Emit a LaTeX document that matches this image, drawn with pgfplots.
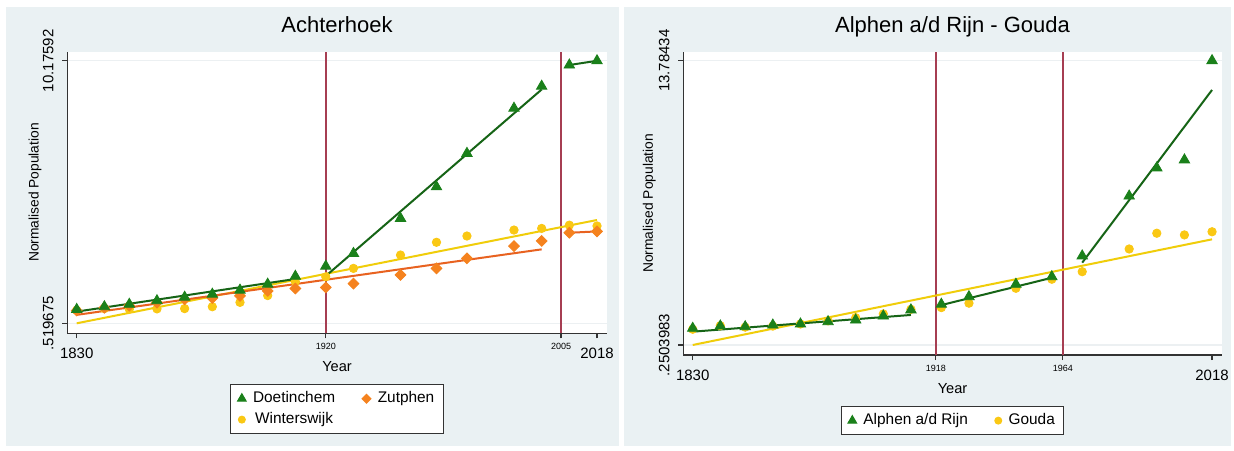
\documentclass[border=0pt]{standalone}
\usepackage{fontspec}
\setmainfont{Liberation Sans}
\usepackage{pgfplots}
\usepackage{pgfplotstable}
\pgfplotsset{compat=1.18}
\definecolor{bgc}{RGB}{234,241,243}
\definecolor{gridc}{RGB}{236,240,242}
\definecolor{gcol}{RGB}{26,128,26}
\definecolor{gline}{RGB}{22,100,22}
\definecolor{ocol}{RGB}{245,130,30}
\definecolor{oline}{RGB}{232,98,32}
\definecolor{ycol}{RGB}{250,200,20}
\definecolor{yline}{RGB}{240,205,10}
\definecolor{vcol}{RGB}{166,62,82}
\newcommand{\smalltick}[1]{\raisebox{4.5pt}{\fontsize{4.5}{5}\selectfont #1}}

\pgfplotstableread{
year doet zut wint
1830 1.03 0.99 1.00
1840 1.13 1.09 1.06
1849 1.22 1.17 1.04
1859 1.35 1.28 1.05
1869 1.48 1.40 1.06
1879 1.59 1.45 1.13
1889 1.74 1.53 1.29
1899 1.96 1.71 1.54
1909 2.25 1.80 2.05
1920 2.62 1.84 2.23
1930 3.09 1.98 2.54
1947 4.38 2.30 3.03
1960 5.54 2.54 3.50
1971 6.77 2.91 3.73
1988 8.43 3.36 3.95
1998 9.24 3.55 4.01
2008 10.02 3.85 4.13
2018 10.17592 3.90 4.10
}\achter

\pgfplotstableread{
year alph gou
1830 1.045 1.00
1840 1.155 1.17
1849 1.12 1.10
1859 1.20 1.15
1869 1.25 1.25
1879 1.36 1.40
1889 1.44 1.55
1899 1.63 1.73
1909 1.92 1.95
1920 2.19 2.03
1930 2.55 2.24
1947 3.14 2.95
1960 3.50 3.38
1971 4.49 3.74
1988 7.34 4.82
1998 8.68 5.57
2008 9.06 5.49
2018 13.78434 5.64
}\alphen

\pgfplotsset{
  statastyle/.style={
    scale only axis,
    anchor=south west,
    xmin=1826.6, xmax=2021.5,
    axis x line*=bottom, axis y line*=left,
    axis line style={draw=black!80, line width=0.6pt, -},
    axis background/.style={fill=white},
    tick align=outside,
    major tick length=2.5pt,
    tick style={draw=black!80, line width=0.6pt},
    ymajorgrids,
    grid style={draw=gridc, line width=0.7pt},
    xticklabel style={anchor=base, inner sep=0pt, font=\fontsize{7.5}{9}\selectfont},
    xticklabel shift=10pt,
    yticklabel style={rotate=90, anchor=south, inner sep=0pt, font=\fontsize{7.5}{9}\selectfont},
    yticklabel shift=4.15pt,
    title style={anchor=base, font=\fontsize{11}{13}\selectfont},
    xlabel style={anchor=base, font=\fontsize{7.3}{9}\selectfont},
    ylabel style={anchor=center, font=\fontsize{6.9}{8}\selectfont},
    legend columns=2,
    legend style={anchor=north, draw=black!80, line width=0.6pt, fill=white,
      font=\fontsize{7.7}{9}\selectfont, nodes={inner sep=1pt},
      inner xsep=3.5pt, inner ysep=2.5pt, row sep=1.4pt,
      /tikz/every odd column/.append style={column sep=2.5pt},
      /tikz/every even column/.append style={column sep=12.5pt}},
    legend image code/.code={\draw[#1, every mark/.append style={scale=0.8}] plot coordinates {(0pt,0pt)};},
    fitline/.style={line width=1pt, forget plot, no marks},
  }
}

\begin{document}
\begin{tikzpicture}
\fill[white] (0,0) rectangle (617pt,225pt);
\fill[bgc] (3pt,2pt) rectangle (309.5pt,221.5pt);
\fill[bgc] (312pt,2pt) rectangle (615.5pt,221.5pt);

% ---------------- Left panel ----------------
\begin{axis}[statastyle,
  at={(33.65pt,58.35pt)}, width=269.7pt, height=140.8pt,
  ymin=0.152, ymax=10.51,
  xtick={1830,1920,2005,2018},
  xticklabels={1830,\smalltick{1920},\smalltick{2005},2018},
  ytick={0.519675,10.17592},
  yticklabels={.519675,10.17592},
  title={Achterhoek}, title style={at={(0.5,1.0238)}},
  xlabel={Year}, xlabel style={at={(axis description cs:0.5,-0.134)}},
  ylabel={Normalised Population}, ylabel style={at={(axis description cs:-0.060,0.5)}},
  legend style={at={(axis description cs:0.5,-0.18)}},
]
\addplot[vcol, line width=1pt, forget plot] coordinates {(1920,0.152) (1920,10.51)};
\addplot[vcol, line width=1pt, forget plot] coordinates {(2005,0.152) (2005,10.51)};
\addplot[only marks, mark=*, ycol, mark size=2.1pt, forget plot] table[x=year, y=wint] {\achter};
\addplot[only marks, mark=square*, ocol, mark size=1.9pt, mark options={rotate=45}, forget plot] table[x=year, y=zut] {\achter};
\addplot[only marks, mark=triangle*, gcol, mark size=3pt, forget plot] table[x=year, y=doet] {\achter};
% fits
\addplot[yline, fitline] coordinates {(1830,0.519675) (2018,4.32)};
\addplot[oline, fitline] coordinates {(1830,0.83) (1998,3.24)};
\addplot[oline, fitline] coordinates {(2008,3.85) (2018,3.90)};
\addplot[gline, fitline] coordinates {(1830,0.95) (1909,2.15)};
\addplot[gline, fitline] coordinates {(1920,2.26) (1998,9.12)};
\addplot[gline, fitline] coordinates {(2008,10.02) (2018,10.17592)};
% legend
\addlegendimage{only marks, mark=triangle*, gcol, mark size=3pt}
\addlegendentry{Doetinchem}
\addlegendimage{only marks, mark=square*, ocol, mark size=1.9pt, mark options={rotate=45}}
\addlegendentry{Zutphen}
\addlegendimage{only marks, mark=*, ycol, mark size=2.1pt}
\addlegendentry{Winterswijk}
\end{axis}

% ---------------- Right panel ----------------
\begin{axis}[statastyle,
  at={(341.65pt,47.5pt)}, width=269.2pt, height=151.65pt,
  ymin=-0.226, ymax=14.21,
  xtick={1830,1918,1964,2018},
  xticklabels={1830,\smalltick{1918},\smalltick{1964},2018},
  ytick={0.2503983,13.78434},
  yticklabels={.2503983,13.78434},
  title={Alphen a/d Rijn - Gouda}, title style={at={(0.5,1.0221)}},
  xlabel={Year}, xlabel style={at={(axis description cs:0.5,-0.1253)}},
  ylabel={Normalised Population}, ylabel style={at={(axis description cs:-0.063,0.5)}},
  legend style={at={(axis description cs:0.5,-0.168)}},
]
\addplot[vcol, line width=1pt, forget plot] coordinates {(1918,-0.226) (1918,14.21)};
\addplot[vcol, line width=1pt, forget plot] coordinates {(1964,-0.226) (1964,14.21)};
\addplot[only marks, mark=*, ycol, mark size=2.1pt, forget plot] table[x=year, y=gou] {\alphen};
\addplot[only marks, mark=triangle*, gcol, mark size=3pt, forget plot] table[x=year, y=alph] {\alphen};
% fits
\addplot[yline, fitline] coordinates {(1830,0.2503983) (2018,5.28)};
\addplot[gline, fitline] coordinates {(1830,0.884) (1909,1.68)};
\addplot[gline, fitline] coordinates {(1920,2.15) (1960,3.45)};
\addplot[gline, fitline] coordinates {(1971,4.17) (2018,12.39)};
% legend
\addlegendimage{only marks, mark=triangle*, gcol, mark size=3pt}
\addlegendentry{Alphen a/d Rijn}
\addlegendimage{only marks, mark=*, ycol, mark size=2.1pt}
\addlegendentry{Gouda}
\end{axis}
\end{tikzpicture}
\end{document}
